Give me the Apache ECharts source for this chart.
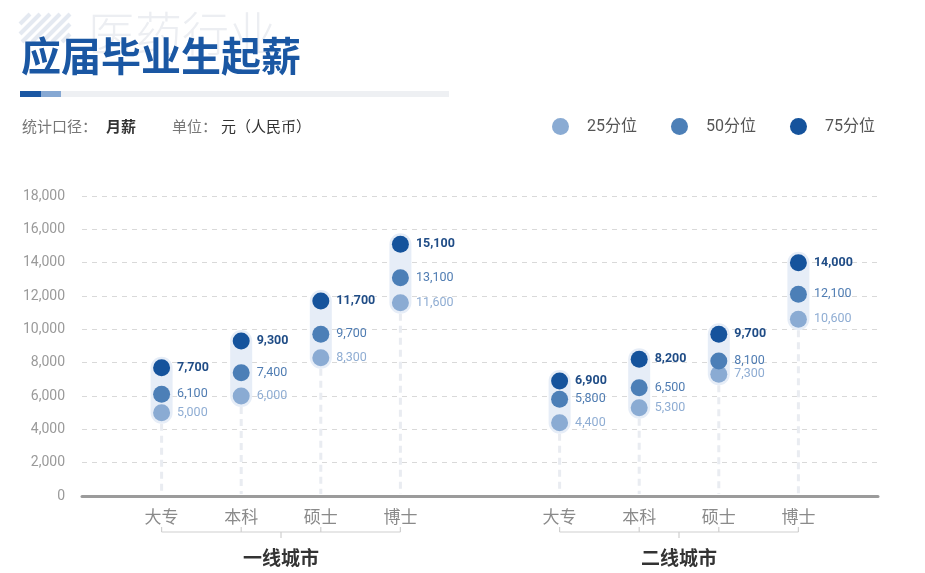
<!DOCTYPE html>
<html>
<head>
<meta charset="utf-8">
<script src="https://cdn.jsdelivr.net/npm/echarts@6/dist/echarts.min.js"></script>
<style>
html,body{margin:0;padding:0;background:#fff;}
#main{width:925px;height:573px;}
</style>
</head>
<body>
<div id="main"></div>
<script>
// ---- data ----
const degrees = ['大专', '本科', '硕士', '博士'];
const cities = ['一线城市', '二线城市'];
const seriesNames = ['25分位', '50分位', '75分位'];
const p25 = [5000, 6000, 8300, 11600, 4400, 5300, 7300, 10600];
const p50 = [6100, 7400, 9700, 13100, 5800, 6500, 8100, 12100];
const p75 = [7700, 9300, 11700, 15100, 6900, 8200, 9700, 14000];
const yMax = 18000;
const yStep = 2000;

// ---- build ----
const FONT = "Roboto, 'Noto Sans CJK SC', sans-serif";
const CJK = "'Noto Sans CJK SC', sans-serif";
const colors = ['#8aabd3', '#4c7fb7', '#15539c'];
const labelColors = ['#8fadd3', '#4f7cb2', '#1f4c86'];

// category slots: '', 4 degrees, '', 4 degrees, ''
const cats = [''].concat(degrees, [''], degrees, ['']);
function slot(i) { return i < degrees.length ? i + 1 : i + 2; }

const allVals = [p25, p50, p75];
const scatterSeries = allVals.map((arr, s) => ({
  name: seriesNames[s],
  type: 'scatter',
  symbol: 'circle',
  symbolSize: 17,
  z: 5,
  itemStyle: { color: colors[s], opacity: 1 },
  label: {
    show: true,
    position: 'right',
    distance: 7,
    fontSize: 12.5,
    fontFamily: FONT,
    fontWeight: s === 2 ? 'bold' : 'normal',
    color: labelColors[s],
    formatter: p => p.value[1].toLocaleString('en-US')
  },
  data: arr.map((v, i) => [slot(i), v])
}));

const rangeData = p25.map((v, i) => [slot(i), Math.min(v, p50[i], p75[i]), Math.max(v, p50[i], p75[i])]);

const rangeSeries = {
  type: 'custom',
  z: 1,
  silent: true,
  renderItem: function (params, api) {
    const x = api.value(0), lo = api.value(1), hi = api.value(2);
    const pLo = api.coord([x, lo]);
    const pHi = api.coord([x, hi]);
    const p0 = api.coord([x, 0]);
    const r = 11;
    return {
      type: 'group',
      children: [
        {
          type: 'line',
          shape: { x1: pLo[0], y1: pLo[1] + r, x2: p0[0], y2: p0[1] - 2 },
          style: { stroke: '#e9ecf1', lineWidth: 3, lineDash: [7, 5] }
        },
        {
          type: 'rect',
          shape: { x: pHi[0] - r, y: pHi[1] - r, width: 2 * r, height: pLo[1] - pHi[1] + 2 * r, r: r },
          style: { fill: '#e6edf7' }
        }
      ]
    };
  },
  data: rangeData
};

// header decorations
const stripes = [];
(function () {
  const x0 = 20, x1 = 70, yTop = 14, yBot = 42, h = yBot - yTop;
  for (let s = x0 - h; s < x1; s += 10) {
    let ax = s, ay = yBot, bx = s + h, by = yTop;
    if (ax < x0) { ay = yBot - (x0 - s); ax = x0; }
    if (bx > x1) { by = yTop + (bx - x1); bx = x1; }
    if (bx <= ax) continue;
    stripes.push({
      type: 'line', silent: true,
      shape: { x1: ax, y1: ay, x2: bx, y2: by },
      style: { stroke: '#e4e9f1', lineWidth: 4 }
    });
  }
})();

const headerGraphics = [].concat(stripes, [
  { type: 'text', left: 88, top: 10, silent: true,
    style: { text: '医药行业', fontSize: 47, fontFamily: CJK, fontWeight: 300, fill: '#eceef2' } },
  { type: 'text', left: 21, top: 36, silent: true,
    style: { text: '应届毕业生起薪', fontSize: 40, fontFamily: CJK, fontWeight: 'bold', fill: '#1a57a3' } },
  { type: 'rect', silent: true, shape: { x: 20, y: 91, width: 429, height: 6 }, style: { fill: '#eef0f3' } },
  { type: 'rect', silent: true, shape: { x: 20, y: 91, width: 21, height: 6 }, style: { fill: '#1a57a3' } },
  { type: 'rect', silent: true, shape: { x: 41, y: 91, width: 20, height: 6 }, style: { fill: '#86a8d3' } },
  { type: 'text', left: 22, top: 119, silent: true,
    style: { text: '统计口径：', fontSize: 15, fontFamily: CJK, fill: '#777' } },
  { type: 'text', left: 106, top: 119, silent: true,
    style: { text: '月薪', fontSize: 15, fontFamily: CJK, fontWeight: 'bold', fill: '#333' } },
  { type: 'text', left: 172, top: 119, silent: true,
    style: { text: '单位：', fontSize: 15, fontFamily: CJK, fill: '#777' } },
  { type: 'text', left: 221, top: 119, silent: true,
    style: { text: '元（人民币）', fontSize: 15, fontFamily: CJK, fill: '#333' } }
]);

const chart = echarts.init(document.getElementById('main'));
const option = {
  animation: false,
  textStyle: { fontFamily: FONT },
  legend: {
    data: seriesNames,
    left: 552,
    top: 118,
    padding: 0,
    icon: 'circle',
    itemWidth: 17,
    itemHeight: 17,
    itemGap: 34,
    selectedMode: false,
    textStyle: { fontSize: 16, color: '#555', fontFamily: FONT, padding: [0, 0, 0, 13], width: 52 }
  },
  grid: { left: 82, right: 47, top: 196, bottom: 77, containLabel: false },
  xAxis: {
    type: 'category',
    data: cats,
    boundaryGap: false,
    axisLine: { show: true, lineStyle: { color: '#9b9b9b', width: 3 } },
    axisTick: { show: false },
    splitLine: { show: false },
    axisLabel: { interval: 0, fontSize: 17, color: '#8a8a8a', margin: 12, fontFamily: CJK }
  },
  yAxis: {
    type: 'value',
    min: 0,
    max: yMax,
    interval: yStep,
    axisLine: { show: false },
    axisTick: { show: false },
    axisLabel: { fontSize: 14, color: '#9a9a9a', margin: 17,
      formatter: v => v.toLocaleString('en-US') },
    splitLine: { show: true, lineStyle: { color: '#d9d9d9', type: [5, 5], width: 1 } }
  },
  graphic: headerGraphics,
  series: [rangeSeries].concat(scatterSeries)
};
chart.setOption(option);

// group brackets under the category axis, positioned with the axis scale
const bracketGraphics = [];
const lineY = 532;
cities.forEach((city, c) => {
  const xs = degrees.map((d, i) => chart.convertToPixel({ xAxisIndex: 0 }, slot(c * degrees.length + i)));
  const xl = xs[0], xr = xs[xs.length - 1], xm = (xl + xr) / 2;
  bracketGraphics.push({ type: 'line', silent: true, shape: { x1: xl, y1: lineY, x2: xr, y2: lineY },
    style: { stroke: '#cfcfcf', lineWidth: 1.2 } });
  xs.forEach(x => bracketGraphics.push({ type: 'line', silent: true,
    shape: { x1: x, y1: lineY - 5, x2: x, y2: lineY }, style: { stroke: '#cfcfcf', lineWidth: 1.2 } }));
  bracketGraphics.push({ type: 'line', silent: true, shape: { x1: xm, y1: lineY, x2: xm, y2: lineY + 6 },
    style: { stroke: '#cfcfcf', lineWidth: 1.2 } });
  bracketGraphics.push({ type: 'text', silent: true, x: xm, y: 558,
    style: { text: city, fontSize: 19, fontWeight: 'bold', fontFamily: CJK, fill: '#333',
      align: 'center', verticalAlign: 'middle' } });
});
chart.setOption({ graphic: headerGraphics.concat(bracketGraphics) });
</script>
</body>
</html>
